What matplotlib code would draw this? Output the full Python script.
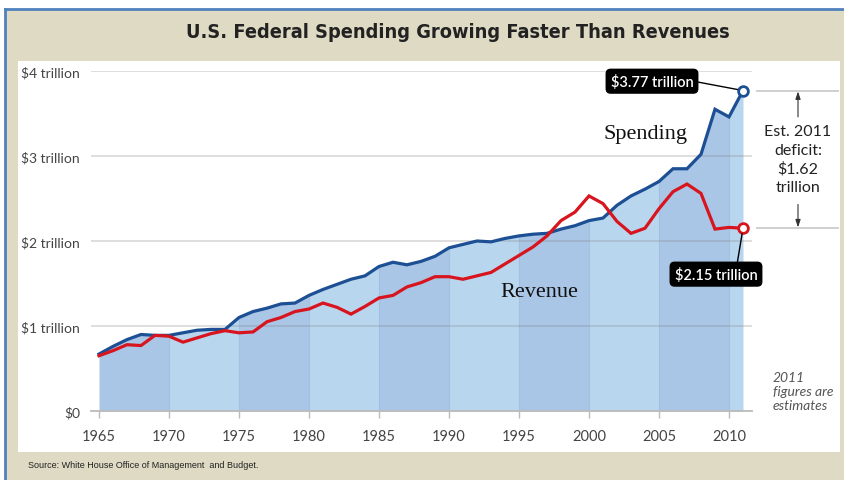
import numpy as np
import matplotlib
matplotlib.use("Agg")
import matplotlib.pyplot as plt
from matplotlib.lines import Line2D
from matplotlib.patches import Rectangle

# data (trillions of dollars)
years = np.arange(1965, 2012)
spending = [0.67, 0.76, 0.84, 0.90, 0.89, 0.89, 0.92, 0.95, 0.96, 0.96,
            1.10, 1.17, 1.21, 1.26, 1.27, 1.36, 1.43, 1.49, 1.55, 1.59,
            1.70, 1.75, 1.72, 1.76, 1.82, 1.92, 1.96, 2.00, 1.99, 2.03,
            2.06, 2.08, 2.09, 2.14, 2.18, 2.24, 2.27, 2.42, 2.53, 2.61,
            2.70, 2.85, 2.85, 3.02, 3.55, 3.46, 3.77]
revenue = [0.65, 0.71, 0.78, 0.77, 0.89, 0.88, 0.81, 0.86, 0.91, 0.945,
           0.92, 0.93, 1.05, 1.10, 1.17, 1.20, 1.27, 1.22, 1.14, 1.23,
           1.33, 1.36, 1.46, 1.51, 1.58, 1.58, 1.55, 1.59, 1.63, 1.73,
           1.83, 1.93, 2.06, 2.24, 2.34, 2.53, 2.44, 2.23, 2.09, 2.15,
           2.38, 2.58, 2.67, 2.56, 2.14, 2.16, 2.15]
xticks = [1965, 1970, 1975, 1980, 1985, 1990, 1995, 2000, 2005, 2010]
yticks = [0, 1, 2, 3, 4]
ylabels = ["$0", "$1 trillion", "$2 trillion", "$3 trillion", "$4 trillion"]

W, H = 845, 481
BEIGE = "#DEDAC4"
BLUE = "#1C4F93"
RED = "#D8151E"
DARK_BAND = "#A9C6E6"
LIGHT_BAND = "#B9D6EF"

fig = plt.figure(figsize=(W / 100, H / 100), dpi=100, facecolor="white")

# beige frame with blue edge on the left and top
fig.patches.append(Rectangle((5 / W, 0), 1, 1 - 10 / H, transform=fig.transFigure,
                             facecolor=BEIGE, edgecolor="none", zorder=-3))
fig.lines.append(Line2D([5 / W, 5 / W], [0, 1 - 10 / H], transform=fig.transFigure,
                        color="#4F81BD", lw=2, zorder=-2))
fig.lines.append(Line2D([5 / W, 1], [1 - 10 / H, 1 - 10 / H], transform=fig.transFigure,
                        color="#4F81BD", lw=2, zorder=-2))
# white chart panel
fig.patches.append(Rectangle((18 / W, 1 - 453 / H), (840 - 18) / W, (453 - 62) / H,
                             transform=fig.transFigure, facecolor="white",
                             edgecolor="none", zorder=-2))

fig.text(458 / W, 1 - 32 / H, "U.S. Federal Spending Growing Faster Than Revenues",
         ha="center", va="center", fontsize=14.3, fontweight="bold", color="#222222",
         family="DejaVu Sans", fontstretch="condensed")
fig.text(28 / W, 1 - 466 / H, "Source: White House Office of Management  and Budget.",
         ha="left", va="center", fontsize=6.5, color="#222222", family="Liberation Sans")

# axes: x 91..752 px, y 412 (=0) .. 72 (=4)
ax = fig.add_axes([91 / W, 1 - 412 / H, (752 - 91) / W, (412 - 72) / H])
ax.set_facecolor("none")
ax.set_xlim(1965 - 8 / 14, 1965 + (752 - 99) / 14)
ax.set_ylim(0, 4)

# shaded area under spending, alternating 5-year bands
edges = list(range(1965, 2011, 5)) + [2011]
for i in range(len(edges) - 1):
    a, b = edges[i], edges[i + 1]
    m = (years >= a) & (years <= b)
    ax.fill_between(years[m], 0, np.array(spending)[m],
                    color=DARK_BAND if i % 2 == 0 else LIGHT_BAND, lw=0, zorder=1)
for x in xticks[1:]:
    ax.plot([x, x], [0, np.interp(x, years, spending)], color="#8FB0D6",
            lw=0.8, alpha=0.6, zorder=1.5)

# gridlines
for y in yticks[1:]:
    ax.axhline(y, color="#888888", alpha=0.3, lw=1.3, zorder=2)

ax.plot(years, spending, color=BLUE, lw=2.3, zorder=4, solid_joinstyle="miter")
ax.plot(years, revenue, color=RED, lw=2.3, zorder=4, solid_joinstyle="miter")
ax.plot(years[-1], spending[-1], "o", ms=7, mfc="white", mec=BLUE, mew=2, zorder=5, clip_on=False)
ax.plot(years[-1], revenue[-1], "o", ms=7, mfc="white", mec=RED, mew=2, zorder=5, clip_on=False)

for s in ["top", "right", "left"]:
    ax.spines[s].set_visible(False)
ax.spines["bottom"].set_color("#BBBBBB")
ax.spines["bottom"].set_linewidth(1.3)
ax.set_xticks(xticks)
ax.set_xticklabels([str(x) for x in xticks], fontsize=10.5, color="#444444", family="Lato")
ax.tick_params(axis="x", length=5, width=1, color="#BBBBBB", pad=8)
ax.set_yticks(yticks)
ax.set_yticklabels(ylabels, fontsize=10, color="#444444", family="Lato")
ax.tick_params(axis="y", length=0, pad=8)

# series names
ax.text(2004.07, 3.27, "Spending", ha="center", va="center", fontsize=16,
        family="Liberation Serif", color="#111111")
ax.text(1996.43, 1.41, "Revenue", ha="center", va="center", fontsize=16,
        family="Liberation Serif", color="#111111")

# value callouts
box = dict(boxstyle="round,pad=0.3,rounding_size=0.3", fc="black", ec="black")
ax.annotate("$3.77 trillion", xy=(years[-1], spending[-1]), xytext=(2004.5, 3.88),
            ha="center", va="center", fontsize=10.5, fontweight="semibold",
            color="white", family="Lato", bbox=box, zorder=6, annotation_clip=False,
            arrowprops=dict(arrowstyle="-", color="black", lw=1, relpos=(1, 0.5),
                            shrinkA=0, shrinkB=4))
ax.annotate("$2.15 trillion", xy=(years[-1], revenue[-1]), xytext=(2009.07, 1.61),
            ha="center", va="center", fontsize=10.5, fontweight="semibold",
            color="white", family="Lato", bbox=box, zorder=6, annotation_clip=False,
            arrowprops=dict(arrowstyle="-", color="black", lw=1, relpos=(0.75, 1),
                            shrinkA=0, shrinkB=4))

# deficit bracket on the right
xr0 = 1965 + (757 - 99) / 14
xr1 = 1965 + (838 - 99) / 14
xm = 1965 + (798 - 99) / 14
for v in [spending[-1], revenue[-1]]:
    ax.plot([xr0, xr1], [v, v], color="#CCCCCC", lw=1.3, clip_on=False)
arrow = dict(arrowstyle="-|>,head_length=0.45,head_width=0.15", color="#333333",
             lw=0.8, shrinkA=0, shrinkB=0)
ax.annotate("", xy=(xm, spending[-1] - 0.01), xytext=(xm, 3.46),
            arrowprops=arrow, annotation_clip=False)
ax.annotate("", xy=(xm, revenue[-1] + 0.01), xytext=(xm, 2.43),
            arrowprops=arrow, annotation_clip=False)
ax.text(xm, 2.96, "Est. 2011\ndeficit:\n$1.62\ntrillion", ha="center", va="center",
        fontsize=11.5, family="Lato", color="#222222", linespacing=1.4, clip_on=False)

ax.text(1965 + (773 - 99) / 14, (412 - 392) / 85, "2011\nfigures are\nestimates",
        ha="left", va="center", fontsize=10, style="italic", family="Lato",
        color="#555555", linespacing=1.2, clip_on=False)

fig.savefig("out.png", dpi=100, facecolor="white")
